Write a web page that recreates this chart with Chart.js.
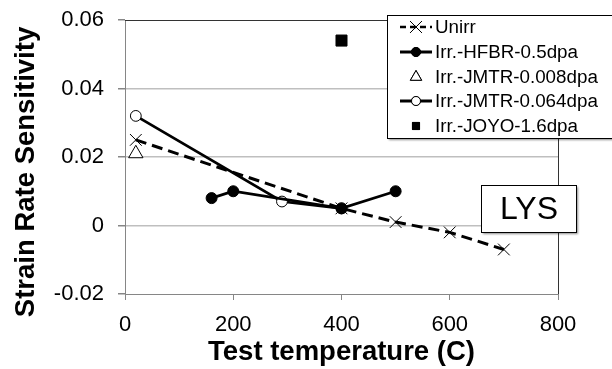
<!DOCTYPE html>
<html>
<head>
<meta charset="utf-8">
<script src="https://cdn.jsdelivr.net/npm/chart.js@4.4.0/dist/chart.umd.min.js"></script>
<style>
  html, body { margin: 0; padding: 0; background: #fff; }
  #wrap { width: 612px; height: 369px; }
</style>
</head>
<body>
<div id="wrap"><canvas id="myChart" width="612" height="369"></canvas></div>
<script>
// data
const unirrTemp = [20, 400, 500, 600, 700];
const unirrSRS = [0.025, 0.005, 0.001, -0.002, -0.007];
const hfbrTemp = [160, 200, 400, 500];
const hfbrSRS = [0.008, 0.010, 0.005, 0.010];
const jmtr008Temp = [20];
const jmtr008SRS = [0.021];
const jmtr064Temp = [20, 290, 400];
const jmtr064SRS = [0.032, 0.007, 0.005];
const joyoTemp = [400];
const joyoSRS = [0.054];
const yTicks = [-0.02, 0, 0.02, 0.04, 0.06];
const xTicks = [0, 200, 400, 600, 800];
const yTitle = 'Strain Rate Sensitivity';
const xTitle = 'Test temperature (C)';
const boxLabel = 'LYS';

const toPts = (xs, ys) => xs.map((x, i) => ({ x: x, y: ys[i] }));

const FONT = "'Liberation Sans', Arial, sans-serif";

// draws the plot border, the legend box, the LYS label box and the y title
const boxesPlugin = {
  id: 'boxes',
  beforeDatasetsDraw(chart) {
    const { ctx, chartArea } = chart;
    ctx.save();
    ctx.strokeStyle = '#333';
    ctx.lineWidth = 1;
    ctx.beginPath();
    ctx.moveTo(chartArea.left, chartArea.top + 0.5);
    ctx.lineTo(chartArea.right + 0.5, chartArea.top + 0.5);
    ctx.lineTo(chartArea.right + 0.5, chartArea.bottom);
    ctx.stroke();
    ctx.restore();
  },
  afterDraw(chart) {
    const { ctx } = chart;
    ctx.save();

    // y axis title
    ctx.save();
    ctx.translate(26, 172);
    ctx.rotate(-Math.PI / 2);
    ctx.fillStyle = '#000';
    ctx.font = 'bold 27.5px ' + FONT;
    ctx.textAlign = 'center';
    ctx.textBaseline = 'middle';
    ctx.fillText(yTitle, 0, 0);
    ctx.restore();

    // LYS box
    ctx.shadowColor = 'rgba(0,0,0,0.45)';
    ctx.shadowOffsetX = 2;
    ctx.shadowOffsetY = 2;
    ctx.shadowBlur = 2;
    ctx.fillStyle = '#fff';
    ctx.fillRect(481, 185, 95, 47);
    ctx.shadowColor = 'transparent';
    ctx.strokeStyle = '#000';
    ctx.lineWidth = 1;
    ctx.strokeRect(481.5, 185.5, 95, 47);
    ctx.fillStyle = '#000';
    ctx.font = '32px ' + FONT;
    ctx.textAlign = 'center';
    ctx.textBaseline = 'middle';
    ctx.fillText(boxLabel, 529, 210);

    // legend box
    ctx.shadowColor = 'rgba(0,0,0,0.45)';
    ctx.shadowOffsetX = 2;
    ctx.shadowOffsetY = 2;
    ctx.shadowBlur = 2;
    ctx.fillStyle = '#fff';
    ctx.fillRect(387, 15, 240, 123);
    ctx.shadowColor = 'transparent';
    ctx.strokeRect(387.5, 15.5, 240, 123);

    const rowY = [27, 52, 77, 101, 126];
    chart.data.datasets.forEach((ds, i) => {
      const y = rowY[i];
      if (ds.showLine !== false) {
        ctx.save();
        ctx.strokeStyle = '#000';
        ctx.lineWidth = ds.borderDash ? 2.5 : 3;
        ctx.setLineDash(ds.borderDash ? [6, 4] : []);
        ctx.beginPath();
        ctx.moveTo(400, y);
        ctx.lineTo(432, y);
        ctx.stroke();
        ctx.restore();
      }
      Chart.helpers.drawPoint(ctx, {
        pointStyle: ds.pointStyle,
        radius: ds.legendRadius,
        borderWidth: 1
      }, 416, y);
      ctx.fillStyle = ds.pointBackgroundColor;
      ctx.strokeStyle = '#000';
      ctx.lineWidth = 1;
      if (ds.pointStyle !== 'crossRot') ctx.fill();
      ctx.stroke();
      ctx.fillStyle = '#000';
      ctx.font = '18.8px ' + FONT;
      ctx.textAlign = 'left';
      ctx.textBaseline = 'middle';
      ctx.fillText(ds.label, 435, y + 1);
    });
    ctx.restore();
  }
};

new Chart('myChart', {
  type: 'scatter',
  data: {
    datasets: [
      {
        label: 'Unirr',
        data: toPts(unirrTemp, unirrSRS),
        showLine: true,
        borderColor: '#000',
        borderWidth: 3,
        borderDash: [11, 6],
        pointStyle: 'crossRot',
        pointRadius: 8.3,
        pointBorderWidth: 1,
        pointBorderColor: '#000',
        pointBackgroundColor: '#000',
        legendRadius: 8.3
      },
      {
        label: 'Irr.-HFBR-0.5dpa',
        data: toPts(hfbrTemp, hfbrSRS),
        showLine: true,
        borderColor: '#000',
        borderWidth: 2.75,
        pointStyle: 'circle',
        pointRadius: 5.5,
        pointBorderWidth: 1,
        pointBorderColor: '#000',
        pointBackgroundColor: '#000',
        legendRadius: 4.5
      },
      {
        label: 'Irr.-JMTR-0.008dpa',
        data: toPts(jmtr008Temp, jmtr008SRS),
        showLine: false,
        borderColor: '#000',
        pointStyle: 'triangle',
        pointRadius: 8.3,
        pointBorderWidth: 1,
        pointBorderColor: '#000',
        pointBackgroundColor: '#fff',
        legendRadius: 6.5
      },
      {
        label: 'Irr.-JMTR-0.064dpa',
        data: toPts(jmtr064Temp, jmtr064SRS),
        showLine: true,
        borderColor: '#000',
        borderWidth: 2.75,
        pointStyle: 'circle',
        pointRadius: 5.4,
        pointBorderWidth: 1,
        pointBorderColor: '#000',
        pointBackgroundColor: '#fff',
        legendRadius: 4.5
      },
      {
        label: 'Irr.-JOYO-1.6dpa',
        data: toPts(joyoTemp, joyoSRS),
        showLine: false,
        borderColor: '#000',
        pointStyle: 'rect',
        pointRadius: 7.8,
        pointBorderWidth: 1,
        pointBorderColor: '#000',
        pointBackgroundColor: '#000',
        legendRadius: 5
      }
    ]
  },
  options: {
    responsive: false,
    animation: false,
    layout: { padding: { left: 0, top: 20, right: 54, bottom: 0 } },
    plugins: {
      legend: { display: false },
      tooltip: { enabled: false }
    },
    scales: {
      x: {
        type: 'linear',
        min: 0,
        max: 800,
        afterBuildTicks: (s) => { s.ticks = xTicks.map(v => ({ value: v })); },
        afterFit: (s) => { s.height = 75; s.paddingLeft = 0; s.paddingRight = 0; },
        ticks: {
          color: '#000',
          font: { family: FONT, size: 22 },
          padding: 12
        },
        grid: {
          drawOnChartArea: false,
          drawTicks: true,
          tickLength: 6,
          color: '#868686'
        },
        border: { color: '#868686', width: 1 },
        title: {
          display: true,
          text: xTitle,
          color: '#000',
          font: { family: FONT, size: 27.5, weight: 'bold' },
          padding: { top: 0, bottom: 0 }
        }
      },
      y: {
        type: 'linear',
        min: -0.02,
        max: 0.06,
        afterBuildTicks: (s) => { s.ticks = yTicks.map(v => ({ value: v })); },
        afterFit: (s) => { s.width = 125; s.paddingTop = 0; s.paddingBottom = 0; },
        ticks: {
          color: '#000',
          font: { family: FONT, size: 22 },
          padding: 14,
          callback: (v) => String(Math.round(v * 100) / 100)
        },
        grid: {
          color: (c) => (c.tick && (c.tick.value === 0.06 || c.tick.value === -0.02)) ? 'rgba(0,0,0,0)' : '#bfbfbf',
          tickColor: '#868686',
          drawTicks: true,
          tickLength: 7,
          lineWidth: 1.5
        },
        border: { color: '#868686', width: 1 },
        title: { display: false }
      }
    }
  },
  plugins: [boxesPlugin]
});
</script>
</body>
</html>
